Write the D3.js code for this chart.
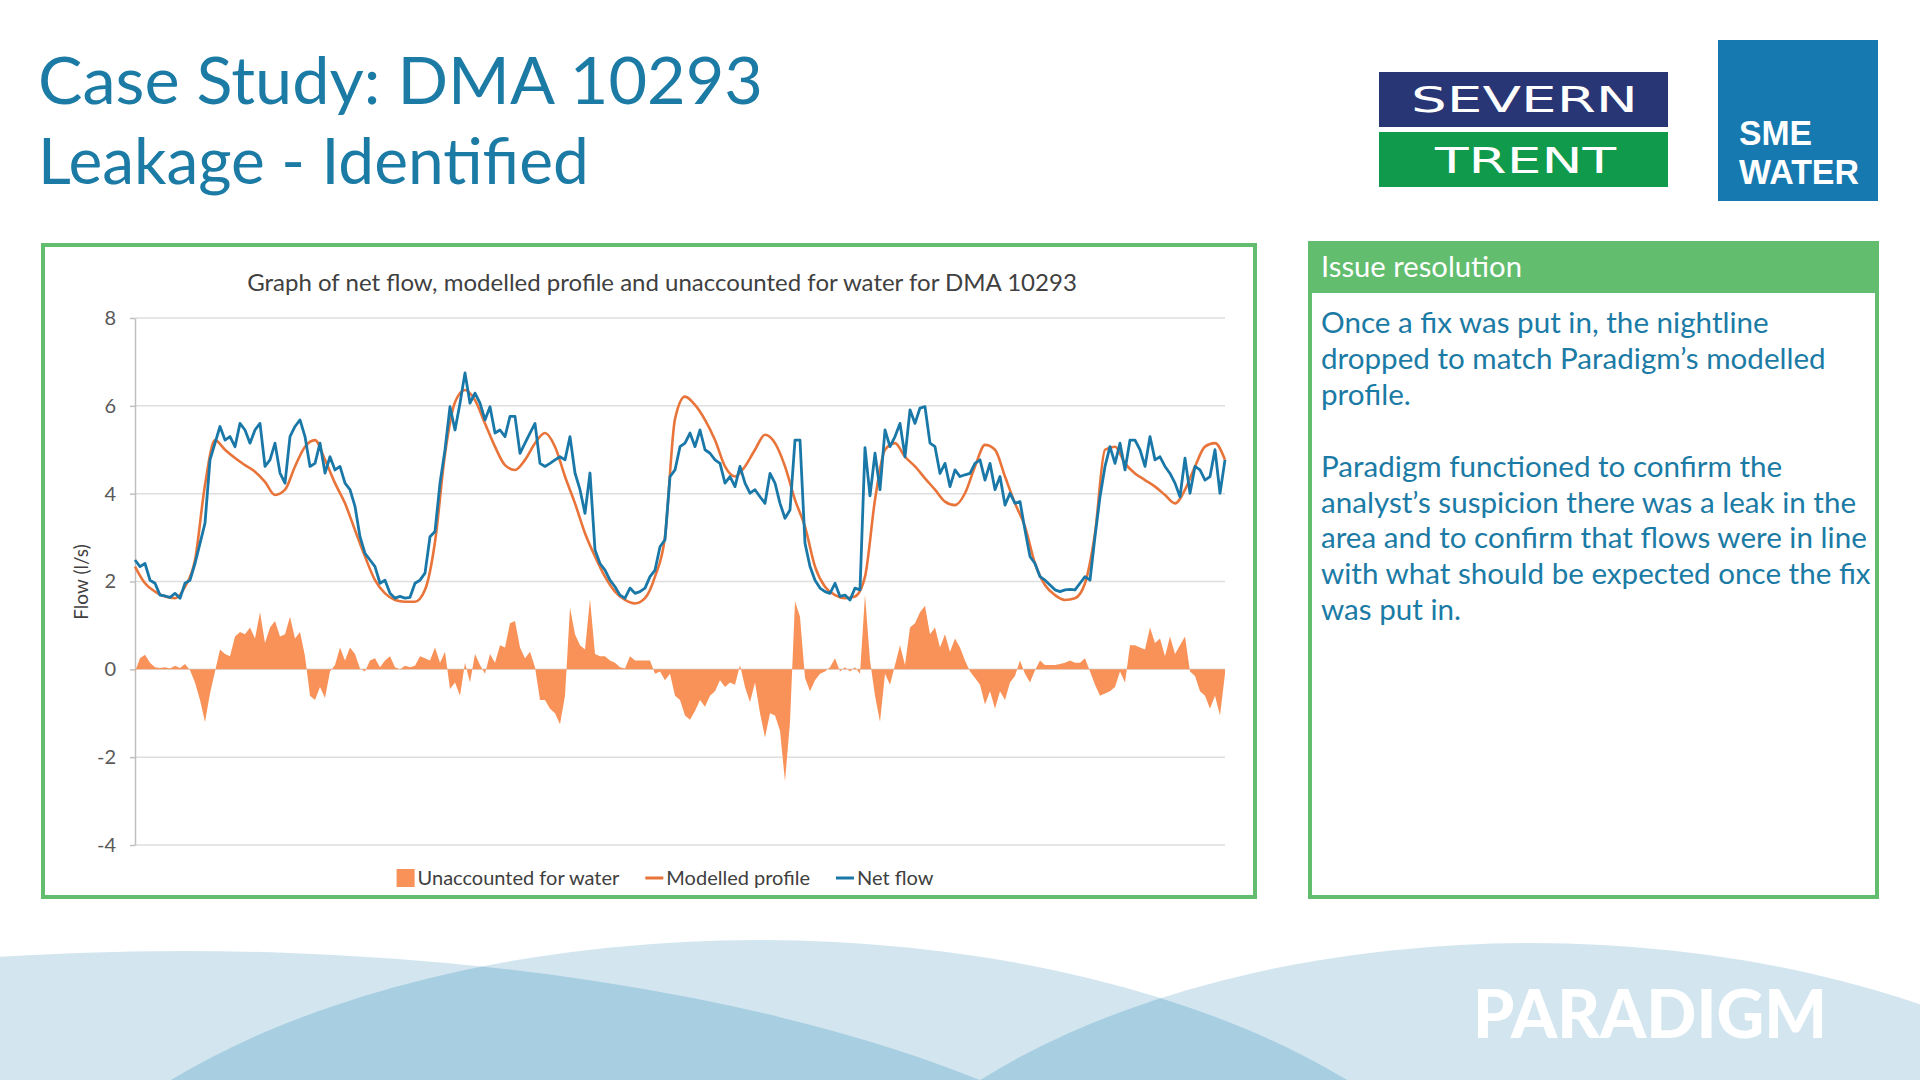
<!DOCTYPE html>
<html><head><meta charset="utf-8">
<script src="https://cdn.jsdelivr.net/npm/d3@7"></script>
<style>html,body{margin:0;padding:0;background:#fff;} svg{display:block;}</style>
</head><body>
<svg id="c" width="1920" height="1080"></svg>
<script>
// ---------- DATA ----------
// Net flow (l/s), 30-minute samples
const netFlow = [
 2.49,2.34,2.41,2.03,1.96,1.69,1.67,1.64,1.73,1.62,
 1.96,2.03,2.41,2.87,3.33,4.77,5.15,5.53,5.22,5.30,
 5.07,5.60,5.45,5.15,5.45,5.60,4.62,4.77,5.15,4.47,
 4.24,5.30,5.53,5.68,5.30,4.62,4.69,5.15,4.47,4.84,
 4.54,4.62,4.24,4.09,3.71,3.02,2.64,2.49,2.34,1.96,
 2.03,1.73,1.62,1.66,1.62,1.64,1.96,2.03,2.19,3.02,
 3.14,4.24,5.00,5.98,5.45,6.06,6.75,6.06,6.29,6.06,
 5.68,5.98,5.38,5.45,5.30,5.76,5.76,4.92,5.15,5.38,
 5.60,4.69,4.62,4.69,4.77,4.84,4.77,5.30,4.47,4.09,
 3.55,4.47,2.72,2.41,2.26,2.03,1.88,1.69,1.62,1.85,
 1.73,1.77,1.85,2.11,2.26,2.79,2.95,4.39,4.54,5.07,
 5.15,5.38,5.07,5.45,5.00,4.92,4.77,4.69,4.24,4.39,
 4.16,4.62,4.24,4.01,4.09,3.93,3.78,4.46,4.24,3.78,
 3.44,3.63,5.22,5.22,2.87,2.34,2.03,1.85,1.77,1.73,
 1.96,1.66,1.69,1.58,1.85,1.81,5.05,3.95,4.92,4.09,
 5.45,5.07,5.30,5.60,4.84,5.91,5.60,5.95,5.98,5.15,
 5.07,4.46,4.69,4.16,4.54,4.39,4.43,4.46,4.69,4.77,
 4.31,4.69,4.09,4.39,3.74,4.01,3.78,3.82,3.17,2.57,
 2.41,2.11,2.03,1.92,1.81,1.77,1.81,1.82,1.81,1.96,
 2.11,2.03,3.02,3.93,4.62,5.07,4.69,5.15,4.54,5.22,
 5.22,5.00,4.62,5.30,4.77,4.84,4.62,4.46,4.24,3.93,
 4.81,4.01,4.62,4.54,4.31,4.39,5.00,4.01,4.77
];
// Modelled profile (l/s), hourly samples
const modelledProfile = [
 2.34,1.96,1.77,1.66,1.62,1.88,2.49,4.20,5.22,5.00,
 4.81,4.65,4.50,4.27,3.97,4.09,4.62,5.07,5.22,4.77,
 4.24,3.78,3.17,2.57,2.03,1.73,1.58,1.54,1.54,1.81,
 2.90,4.90,6.08,6.36,6.13,5.60,5.07,4.65,4.54,4.77,
 5.15,5.38,5.07,4.39,3.78,3.10,2.57,2.11,1.77,1.58,
 1.50,1.62,2.11,3.02,5.70,6.21,6.02,5.68,5.22,4.62,
 4.39,4.62,5.00,5.34,5.15,4.62,3.86,3.25,2.34,1.88,
 1.69,1.62,1.66,2.11,3.86,5.00,5.15,4.84,4.62,4.35,
 4.09,3.82,3.74,4.01,4.62,5.11,5.00,4.39,3.78,3.25,
 2.41,1.92,1.69,1.58,1.62,1.96,3.10,5.00,5.07,4.69,
 4.46,4.31,4.16,3.97,3.78,4.09,4.62,5.07,5.15,4.77
];
// Unaccounted for water (l/s), 30-minute samples
const unaccounted = [
 -0.05,0.25,0.33,0.15,0.05,0.03,0.05,0.02,0.08,0.03,
 0.12,-0.02,-0.30,-0.70,-1.20,-0.55,-0.05,0.45,0.35,0.30,
 0.75,0.85,0.80,0.95,0.70,1.30,0.60,0.95,1.10,0.75,
 0.80,1.20,0.70,0.85,0.30,-0.60,-0.70,-0.40,-0.65,-0.05,
 0.10,0.50,0.20,0.50,0.35,0.02,-0.05,0.20,0.25,0.05,
 0.20,0.30,0.05,0.00,0.08,0.05,0.08,0.30,0.25,0.20,
 0.50,0.15,0.40,-0.45,-0.30,-0.60,0.15,-0.30,0.35,0.10,
 -0.10,0.35,0.15,0.55,0.50,1.05,1.10,0.50,0.25,0.40,
 0.05,-0.70,-0.70,-0.90,-1.00,-1.25,-0.60,1.40,0.80,0.55,
 0.45,1.60,0.35,0.30,0.30,0.20,0.15,0.05,0.02,0.30,
 0.20,0.20,0.20,0.20,-0.10,-0.05,-0.25,-0.10,-0.60,-0.70,
 -1.05,-1.15,-0.95,-0.70,-0.85,-0.60,-0.50,-0.25,-0.40,-0.30,
 -0.35,0.10,-0.40,-0.75,-0.30,-1.00,-1.55,-1.00,-1.05,-1.40,
 -2.55,-1.20,1.55,1.20,-0.20,-0.50,-0.25,-0.10,-0.05,0.05,
 0.25,-0.05,0.05,-0.05,0.05,-0.10,1.70,0.20,-0.60,-1.20,
 -0.10,-0.35,0.10,0.55,0.10,0.95,1.05,1.30,1.45,0.80,
 0.95,0.50,0.80,0.40,0.70,0.50,0.20,-0.05,-0.20,-0.35,
 -0.80,-0.50,-0.90,-0.50,-0.70,-0.30,-0.15,0.20,-0.10,-0.30,
 -0.02,0.20,0.10,0.10,0.10,0.12,0.15,0.20,0.15,0.15,
 0.25,-0.05,-0.35,-0.60,-0.55,-0.50,-0.40,-0.05,-0.30,0.55,
 0.55,0.50,0.45,0.95,0.60,0.70,0.30,0.75,0.35,0.55,
 0.75,-0.05,-0.15,-0.50,-0.60,-0.90,-0.60,-1.05,-0.10
];
const netStepHours = 0.5;
const modelStepHours = 1;
const yTicks = [-4, -2, 0, 2, 4, 6, 8];
const seriesNames = ["Unaccounted for water", "Modelled profile", "Net flow"];
const chartTitle = "Graph of net flow, modelled profile and unaccounted for water for DMA 10293";
const yAxisTitle = "Flow (l/s)";
const titleLines = ["Case Study: DMA 10293", "Leakage - Identified"];
const panelHeader = "Issue resolution";
const panelLines = [
 "Once a fix was put in, the nightline",
 "dropped to match Paradigm\u2019s modelled",
 "profile.",
 "",
 "Paradigm functioned to confirm the",
 "analyst\u2019s suspicion there was a leak in the",
 "area and to confirm that flows were in line",
 "with what should be expected once the fix",
 "was put in."
];

// ---------- STYLE ----------
const FONT = 'Lato, "Noto Sans", "DejaVu Sans", sans-serif';
const C_TITLE = '#1B7BA5';
const C_GREEN = '#62BD6F';
const C_UFW = '#F89259';
const C_MODEL = '#E9743A';
const C_NET = '#1A78A8';

const svg = d3.select('#c');

function fitWidth(t, w) {
  const cur = t.node().getComputedTextLength();
  const fs = parseFloat(t.attr('font-size'));
  t.attr('font-size', fs * w / cur);
  return t;
}

// ---------- Background waves ----------
const waves = svg.append('g');
const defs = svg.append('defs');
const ells = [
  {cx: 184, cy: 1351, rx: 1082, ry: 400},
  {cx: 759, cy: 1340, rx: 774, ry: 400},
  {cx: 1531, cy: 1343, rx: 731, ry: 400}
];
ells.forEach((e, i) => {
  defs.append('clipPath').attr('id', 'ce' + i)
    .append('ellipse').attr('cx', e.cx).attr('cy', e.cy).attr('rx', e.rx).attr('ry', e.ry);
});
waves.selectAll('ellipse.w').data(ells).join('ellipse').attr('class', 'w')
  .attr('cx', d => d.cx).attr('cy', d => d.cy).attr('rx', d => d.rx).attr('ry', d => d.ry)
  .attr('fill', '#D3E6F0');
[[0, 1], [1, 2]].forEach(([a, b]) => {
  const e = ells[b];
  waves.append('g').attr('clip-path', `url(#ce${a})`)
    .append('ellipse').attr('cx', e.cx).attr('cy', e.cy).attr('rx', e.rx).attr('ry', e.ry)
    .attr('fill', '#A8CEE1');
});
const para = svg.append('text').attr('x', 1473).attr('y', 1038)
  .attr('font-family', 'Lato, "Open Sans", sans-serif').attr('font-weight', 900)
  .attr('font-size', 66).attr('fill', '#fff').text('PARADIGM');
para.attr('textLength', 354).attr('lengthAdjust', 'spacingAndGlyphs');

// ---------- Title ----------
const t1 = svg.append('text').attr('x', 38).attr('y', 104).attr('font-family', FONT)
  .attr('font-size', 70).attr('fill', C_TITLE).text(titleLines[0]);
fitWidth(t1, 725);
const t2 = svg.append('text').attr('x', 38).attr('y', 184).attr('font-family', FONT)
  .attr('font-size', 70).attr('fill', C_TITLE).text(titleLines[1]);
fitWidth(t2, 551);

// ---------- Logos ----------
const st = svg.append('g');
st.append('rect').attr('x', 1379).attr('y', 72).attr('width', 289).attr('height', 55).attr('fill', '#283676');
st.append('rect').attr('x', 1379).attr('y', 132).attr('width', 289).attr('height', 55).attr('fill', '#0F9B4B');
st.append('text').attr('x', 1411).attr('y', 112).attr('font-family', '"DejaVu Sans", sans-serif')
  .attr('font-size', 36).attr('fill', '#fff').attr('textLength', 227).attr('lengthAdjust', 'spacingAndGlyphs').text('SEVERN');
st.append('text').attr('x', 1435).attr('y', 173).attr('font-family', '"DejaVu Sans", sans-serif')
  .attr('font-size', 36).attr('fill', '#fff').attr('textLength', 181).attr('lengthAdjust', 'spacingAndGlyphs').text('TRENT');

const sme = svg.append('g');
sme.append('rect').attr('x', 1718).attr('y', 40).attr('width', 160).attr('height', 161).attr('fill', '#1679B0');
sme.append('text').attr('x', 1739).attr('y', 145).attr('font-family', '"Liberation Sans", Arial, sans-serif').attr('font-weight', 700)
  .attr('font-size', 34.5).attr('fill', '#fff').attr('textLength', 73).attr('lengthAdjust', 'spacingAndGlyphs').text('SME');
sme.append('text').attr('x', 1739).attr('y', 184).attr('font-family', '"Liberation Sans", Arial, sans-serif').attr('font-weight', 700)
  .attr('font-size', 34.5).attr('fill', '#fff').attr('textLength', 120).attr('lengthAdjust', 'spacingAndGlyphs').text('WATER');

// ---------- Chart box ----------
svg.append('rect').attr('x', 43).attr('y', 245).attr('width', 1212).attr('height', 652)
  .attr('fill', '#fff').attr('stroke', C_GREEN).attr('stroke-width', 4);

const ct = svg.append('text').attr('x', 662).attr('y', 291).attr('text-anchor', 'middle')
  .attr('font-family', FONT).attr('font-size', 24).attr('fill', '#404040').text(chartTitle);
fitWidth(ct, 830);

const x = d3.scaleLinear().domain([0, (netFlow.length - 1) * netStepHours]).range([135, 1225]);
const y = d3.scaleLinear().domain([-4, 8]).range([845, 318]);

// gridlines
svg.append('g').selectAll('line').data(yTicks).join('line')
  .attr('x1', x.range()[0]).attr('x2', x.range()[1])
  .attr('y1', d => y(d)).attr('y2', d => y(d))
  .attr('stroke', '#DEDEDE').attr('stroke-width', 1.5);

// axis
const ax = svg.append('g').attr('transform', `translate(${x.range()[0]},0)`)
  .call(d3.axisLeft(y).tickValues(yTicks).tickFormat(d => (d < 0 ? '-' : '') + Math.abs(d))
    .tickSize(5).tickSizeOuter(0).tickPadding(14));
ax.select('.domain').attr('stroke', '#BFBFBF').attr('stroke-width', 1.5);
ax.selectAll('.tick line').attr('stroke', '#BFBFBF').attr('stroke-width', 1.5);
ax.selectAll('.tick text').attr('font-family', FONT).attr('font-size', 20).attr('fill', '#595959');

svg.append('text').attr('transform', 'translate(88,582) rotate(-90)').attr('text-anchor', 'middle')
  .attr('font-family', FONT).attr('font-size', 19).attr('fill', '#404040').text(yAxisTitle);

// series
const area = d3.area().x((d, i) => x(i * netStepHours)).y0(y(0)).y1(d => y(d));
svg.append('path').datum(unaccounted).attr('d', area).attr('fill', C_UFW);

const lineModel = d3.line().x((d, i) => x(i * modelStepHours)).y(d => y(d)).curve(d3.curveMonotoneX);
svg.append('path').datum(modelledProfile).attr('d', lineModel).attr('fill', 'none')
  .attr('stroke', C_MODEL).attr('stroke-width', 2.6).attr('stroke-linejoin', 'round');

const lineNet = d3.line().x((d, i) => x(i * netStepHours)).y(d => y(d));
svg.append('path').datum(netFlow).attr('d', lineNet).attr('fill', 'none')
  .attr('stroke', C_NET).attr('stroke-width', 2.8).attr('stroke-linejoin', 'round');

// legend
const leg = svg.append('g');
const legColors = [C_UFW, C_MODEL, C_NET];
let lx = 0;
seriesNames.forEach((n, i) => {
  const g = leg.append('g');
  if (i === 0) g.append('rect').attr('x', 0).attr('y', -9).attr('width', 18).attr('height', 18).attr('fill', legColors[i]);
  else g.append('line').attr('x1', 0).attr('x2', 18).attr('y1', 0).attr('y2', 0).attr('stroke', legColors[i]).attr('stroke-width', 3);
  const t = g.append('text').attr('x', 21).attr('y', 7).attr('font-family', FONT).attr('font-size', 20)
    .attr('fill', '#404040').text(n);
  const w = 21 + t.node().getComputedTextLength();
  g.attr('transform', `translate(${lx},0)`);
  lx += w + 26;
});
const legW = lx - 26;
leg.attr('transform', `translate(${665 - legW / 2},878)`);

// ---------- Right panel ----------
svg.append('rect').attr('x', 1310).attr('y', 243).attr('width', 567).attr('height', 654)
  .attr('fill', '#fff').attr('stroke', C_GREEN).attr('stroke-width', 4);
svg.append('rect').attr('x', 1308).attr('y', 241).attr('width', 571).attr('height', 52).attr('fill', C_GREEN);
const ph = svg.append('text').attr('x', 1321).attr('y', 277).attr('font-family', FONT).attr('font-size', 30)
  .attr('fill', '#fff').text(panelHeader);
fitWidth(ph, 201);

const pt = svg.append('g');
const bodyFs = 32;
const texts = pt.selectAll('text').data(panelLines).join('text')
  .attr('x', 1321).attr('y', (d, i) => 333 + i * 35.9)
  .attr('font-family', FONT).attr('font-size', bodyFs).attr('fill', C_TITLE).text(d => d);
const ref = texts.filter((d, i) => i === 6).node().getComputedTextLength();
texts.attr('font-size', bodyFs * 546 / ref);
</script>
</body></html>
